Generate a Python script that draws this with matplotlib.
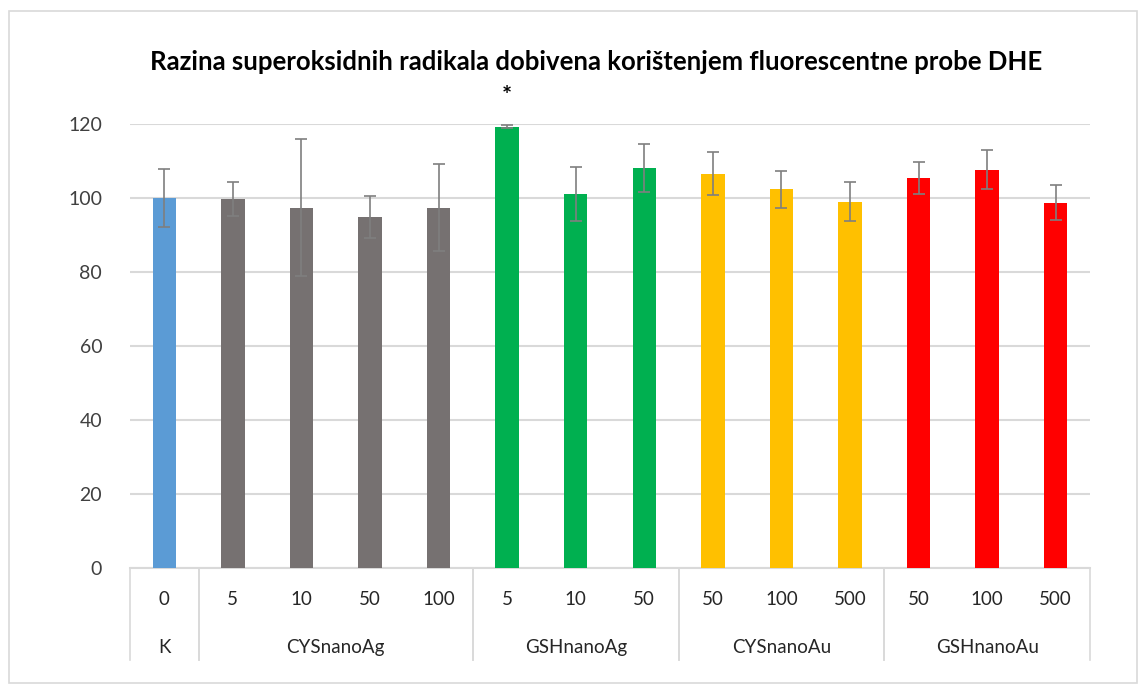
import matplotlib
matplotlib.use("Agg")
import matplotlib.pyplot as plt
from matplotlib.patches import Rectangle
import matplotlib.transforms as mtransforms

plt.rcParams['font.family'] = ['Lato', 'DejaVu Sans']

# data
groups = ["K", "CYSnanoAg", "GSHnanoAg", "CYSnanoAu", "GSHnanoAu"]
doses = [["0"], ["5", "10", "50", "100"], ["5", "10", "50"],
         ["50", "100", "500"], ["50", "100", "500"]]
values = [[100.0], [99.7, 97.4, 94.9, 97.4], [119.3, 101.2, 108.1],
          [106.6, 102.3, 99.0], [105.4, 107.7, 98.7]]
errors = [[7.8], [4.5, 18.6, 5.7, 11.8], [0.3, 7.3, 6.5],
          [5.9, 5.1, 5.2], [4.2, 5.4, 4.7]]
colors = ["#5B9BD5", "#767171", "#00B050", "#FFC000", "#FF0000"]
yticks = [0, 20, 40, 60, 80, 100, 120]
title = "Razina superoksidnih radikala dobivena korištenjem fluorescentne probe DHE"

fig = plt.figure(figsize=(11.4, 6.84), dpi=100)
ax = fig.add_axes([130/1140, 1-568/684, 960/1140, 444/684])

# outer chart frame
fig.patches.append(Rectangle((9/1140, 1/684), 1128/1140, 672/684,
                             transform=fig.transFigure, fill=False,
                             edgecolor="#D9D9D9", linewidth=1.2))

trans = mtransforms.blended_transform_factory(ax.transData, ax.transAxes)
pos = 0
for g, name in enumerate(groups):
    start = pos
    for d, lab in enumerate(doses[g]):
        ax.bar(pos, values[g][d], width=0.34, color=colors[g], zorder=3)
        ax.errorbar(pos, values[g][d], yerr=errors[g][d], fmt="none",
                    ecolor="#7F7F7F", elinewidth=1.2, capsize=4.5,
                    capthick=1.2, zorder=4)
        ax.text(pos, -0.072, lab, transform=trans, ha="center", va="center",
                fontsize=13.5, color="#262626")
        pos += 1
    ax.text((start + pos - 1) / 2, -0.180, name, transform=trans,
            ha="center", va="center", fontsize=13.5, color="#262626")
    for xv in (start - 0.5, pos - 0.5):
        ax.plot([xv, xv], [0, -0.207], transform=trans, color="#D9D9D9",
                lw=1.2, clip_on=False)

# significance mark above GSHnanoAg 5
ax.text(5, values[2][0] + 8, "*", ha="center", va="center", fontsize=17,
        fontweight="bold", clip_on=False)

ax.set_xlim(-0.5, pos - 0.5)
ax.set_ylim(0, 120)
ax.set_yticks(yticks)
ax.set_xticks([])
ax.tick_params(axis="y", length=0, pad=20, labelsize=14, labelcolor="#404040")
ax.grid(axis="y", color="#D9D9D9", linewidth=1.5, zorder=0)
for side in ("top", "right", "left"):
    ax.spines[side].set_visible(False)
ax.spines["bottom"].set_color("#D9D9D9")
ax.spines["bottom"].set_linewidth(1.5)

fig.text(596/1140, 1-62/684, title, ha="center", va="center",
         fontsize=18.5, fontweight="bold", color="#000000")

fig.savefig("out.png", dpi=100)
